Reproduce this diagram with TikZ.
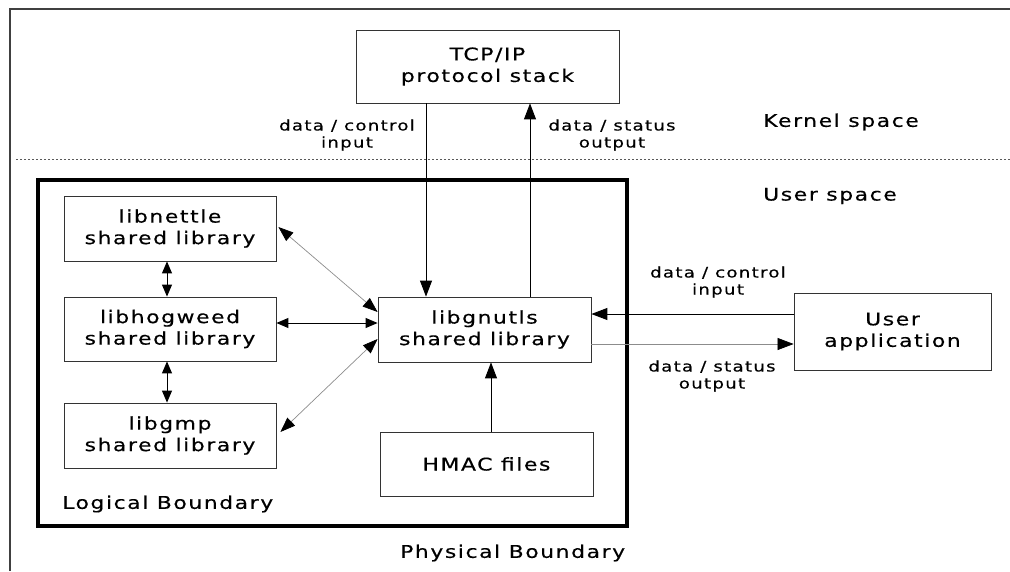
\documentclass[tikz,border=0pt]{standalone}
\usepackage{fontspec}
\setmainfont{DejaVu Sans}[FakeStretch=1.25, LetterSpace=9, FakeBold=0.4]
\usetikzlibrary{arrows.meta}
\tikzset{
  box/.style={draw=black!80, line width=0.8pt, inner sep=0pt, align=center,
    font=\fontsize{17.5}{21.5}\selectfont, text=black},
  lbl/.style={inner sep=0pt, align=center, font=\fontsize{14.5}{17}\selectfont, text=black},
  big/.style={inner sep=0pt, font=\fontsize{17.5}{21.5}\selectfont, text=black},
  arr/.style={line width=0.9pt, black, -{Triangle[length=16pt,width=12pt]}},
  darr/.style={line width=0.9pt, black, {Triangle[length=12pt,width=10pt]}-{Triangle[length=12pt,width=10pt]}},
  garr/.style={line width=0.7pt, black!45, -{Triangle[length=16pt,width=12pt,color=black]}},
  gdarr/.style={line width=0.7pt, black!45, {Triangle[length=15pt,width=11pt,color=black]}-{Triangle[length=15pt,width=11pt,color=black]}},
}
\begin{document}
\begin{tikzpicture}[x=1pt,y=-1pt]
\useasboundingbox (0,0) rectangle (1010,571);
% physical boundary
\draw[black!75, line width=1.5pt] (10,571) -- (10,9) -- (1010,9);
% kernel/user separator
\draw[black!65, line width=0.7pt, dash pattern=on 2pt off 2pt] (16,159) -- (1010,159);
% logical boundary
\draw[black, line width=3.5pt] (38,180) rectangle (627,526);

\node[box, minimum width=263pt, minimum height=73pt] (tcp) at (487.5,66.5) {TCP/IP\\protocol stack};
\node[box, minimum width=213pt, minimum height=65pt] (gnutls) at (484.5,329.5) {libgnutls\\shared library};
\node[box, minimum width=212pt, minimum height=65pt] (nettle) at (170,228.5) {libnettle\\shared library};
\node[box, minimum width=212pt, minimum height=64pt] (hogweed) at (170,329) {libhogweed\\shared library};
\node[box, minimum width=212pt, minimum height=65pt] (gmp) at (170,435.5) {libgmp\\shared library};
\node[box, minimum width=213pt, minimum height=64pt] (hmac) at (486.5,464) {HMAC files};
\node[box, minimum width=197pt, minimum height=77pt] (user) at (892.5,331.5) {User\\application};

\node[lbl] (l1) at (347,135) {data / control\\input};
\node[lbl] (l2) at (612,135) {data / status\\output};
\node[lbl] (l3) at (718,282) {data / control\\input};
\node[lbl] (l4) at (712,376) {data / status\\output};
\node[big, anchor=west] (kern) at (763,122) {Kernel space};
\node[big, anchor=west] (usp) at (763,196) {User space};
\node[big, anchor=west] (logb) at (62,504) {Logical Boundary};
\node[big, anchor=west] (phyb) at (400,553) {Physical Boundary};

% TCP <-> gnutls
\coordinate (d1) at (426,0);
\coordinate (u1) at (530,0);
\draw[arr] (d1 |- tcp.south) -- (d1 |- gnutls.north);
\draw[arr] (u1 |- gnutls.north) -- (u1 |- tcp.south);
% HMAC
\coordinate (h1) at (491,0);
\draw[arr] (h1 |- hmac.north) -- (h1 |- gnutls.south);
% user app
\coordinate (c1) at (0,314);
\coordinate (c2) at (0,344);
\draw[arr] (user.west |- c1) -- (gnutls.east |- c1);
\draw[garr] (gnutls.east |- c2) -- (user.west |- c2);
% left libraries
\draw[darr] ([xshift=-3pt]nettle.south) -- ([xshift=-3pt]hogweed.north);
\draw[darr] ([xshift=-3pt]hogweed.south) -- ([xshift=-3pt]gmp.north);
\draw[gdarr] ([xshift=2pt,yshift=1.5pt]nettle.east) -- ([yshift=17.5pt]gnutls.west);
\draw[darr] ([yshift=6pt]hogweed.east) -- ([yshift=6.5pt]gnutls.west);
\draw[gdarr] ([xshift=4pt,yshift=3.5pt]gmp.east) -- ([yshift=-9.5pt]gnutls.west);
\end{tikzpicture}
\end{document}
